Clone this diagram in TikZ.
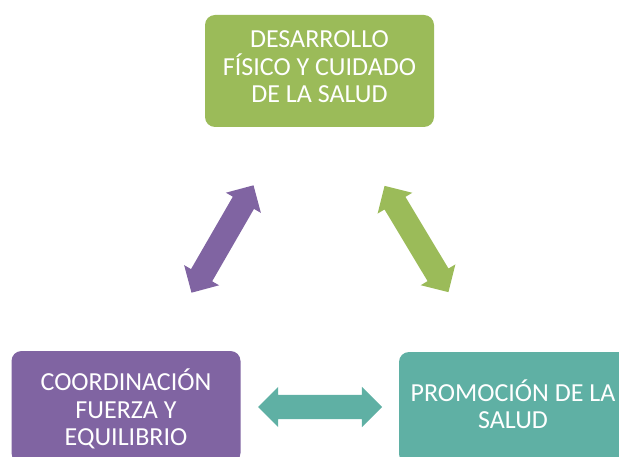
\documentclass[tikz,border=0pt]{standalone}
\usepackage{fontspec}
\setmainfont{Carlito}
\usetikzlibrary{shapes.arrows}
\definecolor{boxgreen}{HTML}{9BBB59}
\definecolor{boxpurple}{HTML}{8064A2}
\definecolor{boxteal}{HTML}{5FB0A4}
\tikzset{
  box/.style={rounded corners=10pt, minimum width=229pt, minimum height=112pt, inner sep=0pt},
  boxtext/.style={align=center, text=white, inner sep=0pt,
    font=\fontsize{26}{27.5}\selectfont},
  dblarrow/.style={double arrow, draw=none, minimum height=124pt, inner xsep=0pt,
    inner ysep=12pt, double arrow head extend=8pt, double arrow tip angle=90}
}
\begin{document}
\begin{tikzpicture}[x=1pt,y=-1pt]
  \useasboundingbox (0,0) rectangle (619,457);
  \clip (0,0) rectangle (619,457);
  \node[box, fill=boxgreen] (top) at (319.5,71) {};
  \node[box, fill=boxpurple] (left) at (126,407) {};
  \node[box, fill=boxteal] (right) at (513.5,408) {};
  \node[boxtext] (toptext) at (319.5,67) {DESARROLLO\\FÍSICO Y CUIDADO\\DE LA SALUD};
  \node[boxtext] (lefttext) at (126,409) {COORDINACIÓN\\FUERZA Y\\EQUILIBRIO};
  \node[boxtext] (righttext) at (513,404) {PROMOCIÓN DE LA\\SALUD};
  \node[dblarrow, fill=boxpurple, rotate=60] (aleft) at (222.5,239) {};
  \node[dblarrow, fill=boxgreen, rotate=-59] (aright) at (416.5,239) {};
  \node[dblarrow, fill=boxteal] (abottom) at (320,407) {};
\end{tikzpicture}
\end{document}
